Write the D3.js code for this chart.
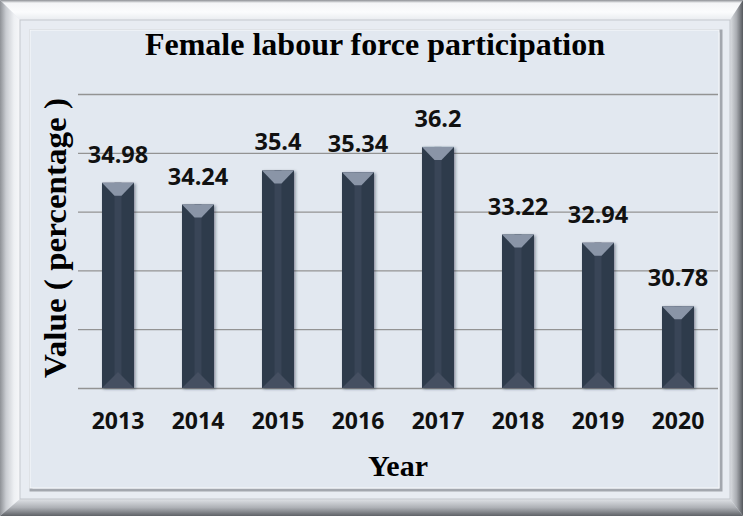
<!DOCTYPE html>
<html lang="en">
<head>
<meta charset="UTF-8">
<title>Female labour force participation</title>
<script src="https://d3js.org/d3.v7.min.js"></script>
<style>
  body { margin: 0; background: #fff; }
  svg { display: block; }
</style>
</head>
<body>
<div id="chart"></div>
<script>
// data
var years = ["2013", "2014", "2015", "2016", "2017", "2018", "2019", "2020"];
var values = [34.98, 34.24, 35.4, 35.34, 36.2, 33.22, 32.94, 30.78];
var gridTicks = [28, 30, 32, 34, 36, 38];

var W = 743, H = 516;

var svg = d3.select("#chart").append("svg")
    .attr("width", W)
    .attr("height", H);

var defs = svg.append("defs");

function grad(id, x2, y2, stops) {
    var g = defs.append("linearGradient").attr("id", id)
        .attr("x1", 0).attr("y1", 0).attr("x2", x2).attr("y2", y2);
    stops.forEach(function (s) {
        g.append("stop").attr("offset", s[0]).attr("stop-color", s[1]);
    });
}
grad("gTop", 0, 1, [[0, "#8c8f94"], [0.15, "#f4f5f7"], [0.6, "#fbfcfd"], [1, "#e9ecf0"]]);
grad("gLeft", 1, 0, [[0, "#8e9196"], [0.3, "#c9ccd1"], [0.7, "#eef0f3"], [1, "#f6f7f9"]]);
grad("gRight", 1, 0, [[0, "#dcdfe3"], [0.5, "#a9acb1"], [1, "#55585d"]]);
grad("gBottom", 0, 1, [[0, "#dfe2e6"], [0.5, "#aeb1b6"], [1, "#5f6267"]]);

var shadow = defs.append("filter").attr("id", "barShadow")
    .attr("x", "-30%").attr("y", "-10%").attr("width", "160%").attr("height", "120%");
shadow.append("feDropShadow")
    .attr("dx", 1.5).attr("dy", 1).attr("stdDeviation", 1.8)
    .attr("flood-color", "#1c2330").attr("flood-opacity", 0.45);

// outer bevelled frame
svg.append("rect").attr("width", W).attr("height", H).attr("fill", "#e6eaf0");
svg.append("polygon").attr("points", "0,0 743,0 730,20 20,20").attr("fill", "url(#gTop)");
svg.append("polygon").attr("points", "0,0 20,20 20,499 0,516").attr("fill", "url(#gLeft)");
svg.append("polygon").attr("points", "743,0 743,516 730,499 730,20").attr("fill", "url(#gRight)");
svg.append("polygon").attr("points", "0,516 20,499 730,499 743,516").attr("fill", "url(#gBottom)");
svg.append("rect").attr("x", 20).attr("y", 20).attr("width", 710).attr("height", 479)
    .attr("fill", "#e8ecf2").attr("stroke", "#c3c7cd").attr("stroke-width", 1);

// inner panel
svg.append("rect").attr("x", 31).attr("y", 31).attr("width", 690).attr("height", 459)
    .attr("fill", "none").attr("stroke", "#a3a7ae").attr("stroke-width", 3);
svg.append("rect").attr("x", 30).attr("y", 30).attr("width", 689).attr("height", 458)
    .attr("fill", "#e2e8f0").attr("stroke", "#f7f9fb").attr("stroke-width", 1);

var x = d3.scaleBand()
    .domain(years)
    .range([78, 718])
    .paddingInner(0.6)
    .paddingOuter(0.3);

var y = d3.scaleLinear()
    .domain([28, 38])
    .range([388, 94]);

// gridlines
var grid = svg.append("g")
    .attr("transform", "translate(718,0)")
    .call(d3.axisLeft(y).tickValues(gridTicks).tickSize(640).tickFormat(""));
grid.select(".domain").remove();
grid.selectAll("line").attr("stroke", "#939393").attr("stroke-width", 1.3);

// bars
var bars = svg.selectAll(".bar")
    .data(values)
    .enter().append("g")
    .attr("class", "bar");

bars.each(function (v, i) {
    var g = d3.select(this);
    var x0 = x(years[i]), bw = x.bandwidth(), x1 = x0 + bw, cx = x0 + bw / 2;
    var top = y(v), base = y(28);
    g.append("rect")
        .attr("x", x0).attr("y", top)
        .attr("width", bw).attr("height", base - top)
        .attr("fill", "#2f3a4b")
        .attr("filter", "url(#barShadow)");
    g.append("rect")
        .attr("x", cx - 3.5).attr("y", top)
        .attr("width", 7).attr("height", base - top)
        .attr("fill", "#394557");
    g.append("path")
        .attr("d", "M" + x0 + "," + top + "L" + x1 + "," + top +
            "L" + (cx + 3.5) + "," + (top + 13) + "L" + (cx - 3.5) + "," + (top + 13) + "Z")
        .attr("fill", "#8a95a7");
    g.append("path")
        .attr("d", "M" + x0 + "," + base + "L" + x1 + "," + base +
            "L" + cx + "," + (base - 16) + "Z")
        .attr("fill", "#454f61");
});

// value labels
bars.append("text")
    .attr("x", (d, i) => x(years[i]) + x.bandwidth() / 2)
    .attr("y", d => y(d) - 20)
    .attr("text-anchor", "middle")
    .style("font", "bold 23.5px 'Open Sans', sans-serif")
    .style("fill", "#111")
    .text(d => d);

// year axis
var xAxis = svg.append("g")
    .attr("transform", "translate(0,388)")
    .call(d3.axisBottom(x).tickSize(0).tickPadding(25));
xAxis.select(".domain").remove();
xAxis.selectAll("text")
    .style("font", "bold 23px 'Open Sans', sans-serif")
    .style("fill", "#111");

// titles
svg.append("text")
    .attr("x", 375).attr("y", 55)
    .attr("text-anchor", "middle")
    .style("font", "bold 32px 'Liberation Serif', 'Times New Roman', serif")
    .style("fill", "#000")
    .text("Female labour force participation");

svg.append("text")
    .attr("x", 398).attr("y", 476)
    .attr("text-anchor", "middle")
    .style("font", "bold 30px 'Liberation Serif', 'Times New Roman', serif")
    .style("fill", "#000")
    .text("Year");

svg.append("text")
    .attr("transform", "translate(66,238) rotate(-90)")
    .attr("text-anchor", "middle")
    .attr("textLength", 280)
    .attr("lengthAdjust", "spacingAndGlyphs")
    .style("font", "bold 31px 'Liberation Serif', 'Times New Roman', serif")
    .style("fill", "#000")
    .text("Value ( percentage )");
</script>
</body>
</html>
